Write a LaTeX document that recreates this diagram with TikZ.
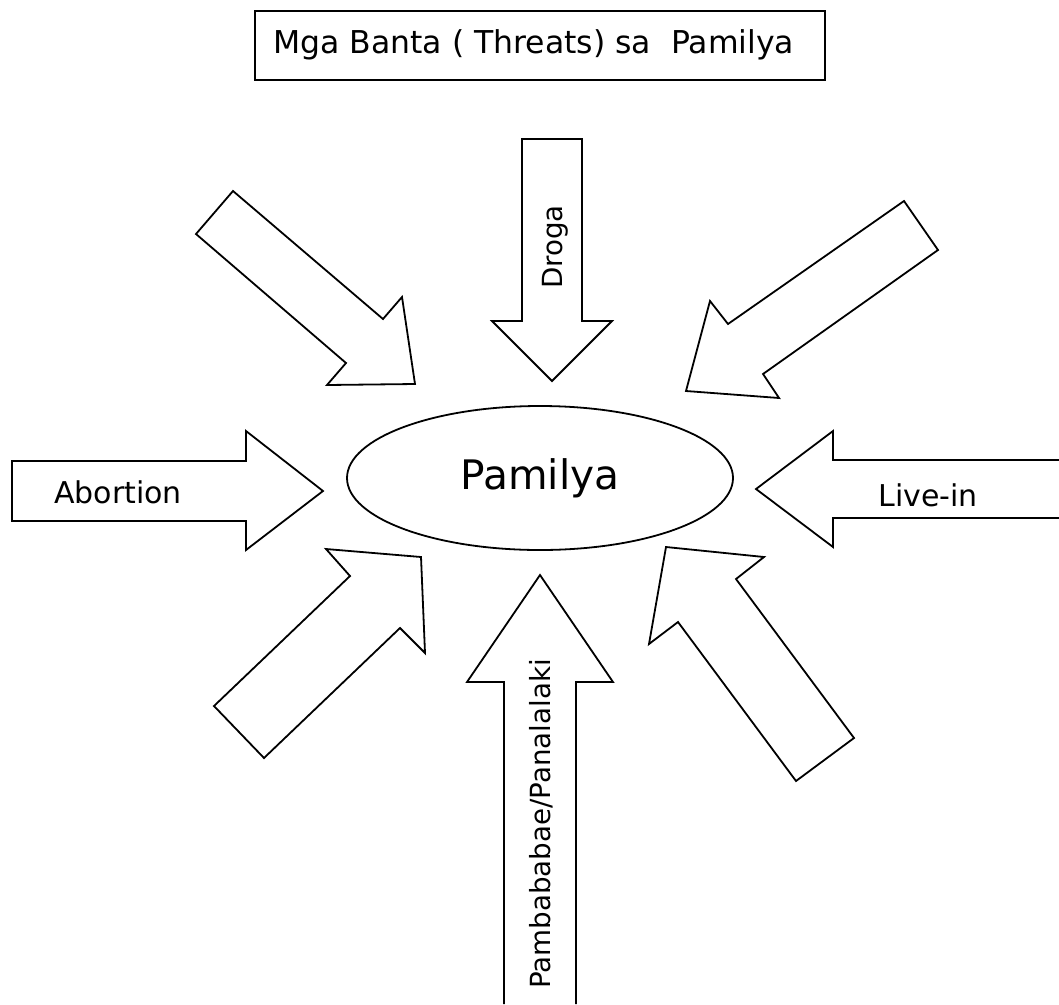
\documentclass[tikz,border=0pt]{standalone}
\usepackage{fontspec}
\setmainfont{DejaVu Sans}
\usetikzlibrary{shapes.geometric}
\begin{document}
\begin{tikzpicture}[x=0.75pt,y=-0.75pt,
  blockarrow/.style={draw=black,line width=1.35pt,line join=miter,fill=white},
  lbl/.style={inner sep=0pt,font=\fontsize{22.5}{26}\selectfont},
  vlbl/.style={inner sep=0pt,font=\fontsize{20.8}{24}\selectfont,rotate=90}]
\useasboundingbox (0,0) rectangle (1059,1004);
% title
\node[draw=black,line width=1.35pt,minimum width=427.5pt,minimum height=52pt,inner sep=0pt,anchor=north west] (title) at (254,10) {};
\node[lbl,anchor=west,font=\fontsize{23.6}{27}\selectfont] (titletext) at (273,45) {Mga Banta ( Threats) sa\ \ Pamilya};
% centre
\node[draw=black,line width=1.35pt,ellipse,minimum width=289.5pt,minimum height=108pt,inner sep=0pt,font=\fontsize{30.5}{36}\selectfont] (pamilya) at (540,478) {Pamilya};
% top-left arrow
\draw[blockarrow] (233,191) -- (383,319) -- (402,297) -- (415,384) -- (327,385) -- (346,363) -- (196,234) -- cycle;
% top arrow (Droga)
\draw[blockarrow] (522,139) -- (582,139) -- (582,321) -- (612,321) -- (552,381) -- (492,321) -- (522,321) -- cycle;
\node[vlbl] (droga) at (555,247) {Droga};
% top-right arrow
\draw[blockarrow] (904,201) -- (938,250) -- (763,374) -- (779,398) -- (686,391) -- (710,301) -- (728,324) -- cycle;
% left arrow (Abortion)
\draw[blockarrow] (12,461) -- (246,461) -- (246,431) -- (323,491) -- (246,550) -- (246,521) -- (12,521) -- cycle;
\node[lbl] (abortion) at (118,492) {Abortion};
% right arrow (Live-in)
\draw[blockarrow] (1059,460) -- (833,460) -- (833,431) -- (756,489) -- (833,547) -- (833,518) -- (1059,518);
\node[lbl] (livein) at (928,495) {Live-in};
% bottom-left arrow
\draw[blockarrow] (421,557) -- (425,653) -- (400,628) -- (264,758) -- (214,706) -- (350,576) -- (326,549) -- cycle;
% bottom-right arrow
\draw[blockarrow] (666,547) -- (764,557) -- (736,579) -- (854,738) -- (796,781) -- (678,622) -- (649,644) -- cycle;
% bottom arrow
\draw[blockarrow] (504,1004) -- (504,682) -- (467,682) -- (540,575) -- (613,682) -- (576,682) -- (576,1004);
\node[vlbl] (pamba) at (541,824) {Pambababae/Panalalaki};
\end{tikzpicture}
\end{document}
